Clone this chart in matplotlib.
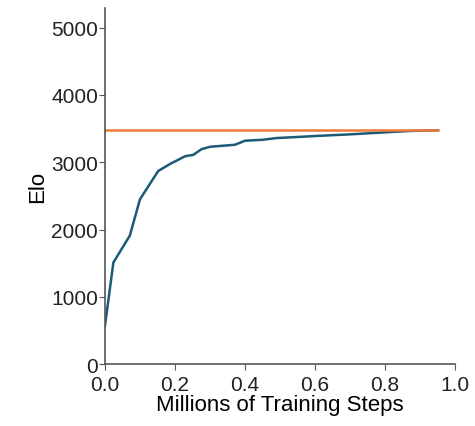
import numpy as np
import matplotlib.pyplot as plt

plt.rcParams['font.family'] = ['Liberation Sans', 'DejaVu Sans']

# Elo curve
steps = [0.0, 0.024, 0.071, 0.10, 0.152, 0.186, 0.229, 0.252, 0.276, 0.30,
         0.371, 0.40, 0.452, 0.49, 0.529, 0.60, 0.70, 0.80, 0.87, 0.95]
elo = [570, 1510, 1910, 2450, 2870, 2975, 3090, 3110, 3195, 3230,
       3260, 3320, 3335, 3360, 3370, 3390, 3415, 3445, 3465, 3475]
ref_elo = 3480
ref_x = [0.0, 0.95]

fig = plt.figure(figsize=(4.75, 4.27), dpi=100)
ax = fig.add_axes([0.221, 0.145, 0.737, 0.835])

ax.plot(steps, elo, color='#1c5a78', lw=1.8)
ax.plot(ref_x, [ref_elo, ref_elo], color='#ee7b3a', lw=1.8)

ax.set_xlim(0, 1.0)
ax.set_ylim(0, 5300)
ax.set_xticks(np.arange(0, 1.01, 0.2))
ax.set_yticks(np.arange(0, 5001, 1000))
ax.set_xlabel('Millions of Training Steps', fontsize=16, labelpad=0)
ax.set_ylabel('Elo', fontsize=16, labelpad=2)

for s in ['top', 'right']:
    ax.spines[s].set_visible(False)
for s in ['left', 'bottom']:
    ax.spines[s].set_color('#555555')
    ax.spines[s].set_linewidth(1.2)
ax.tick_params(labelsize=15, length=4, color='#555555', labelcolor='#222222')
ax.tick_params(axis='y', pad=1)
ax.tick_params(axis='x', pad=4)

fig.savefig('out.png', dpi=100)
